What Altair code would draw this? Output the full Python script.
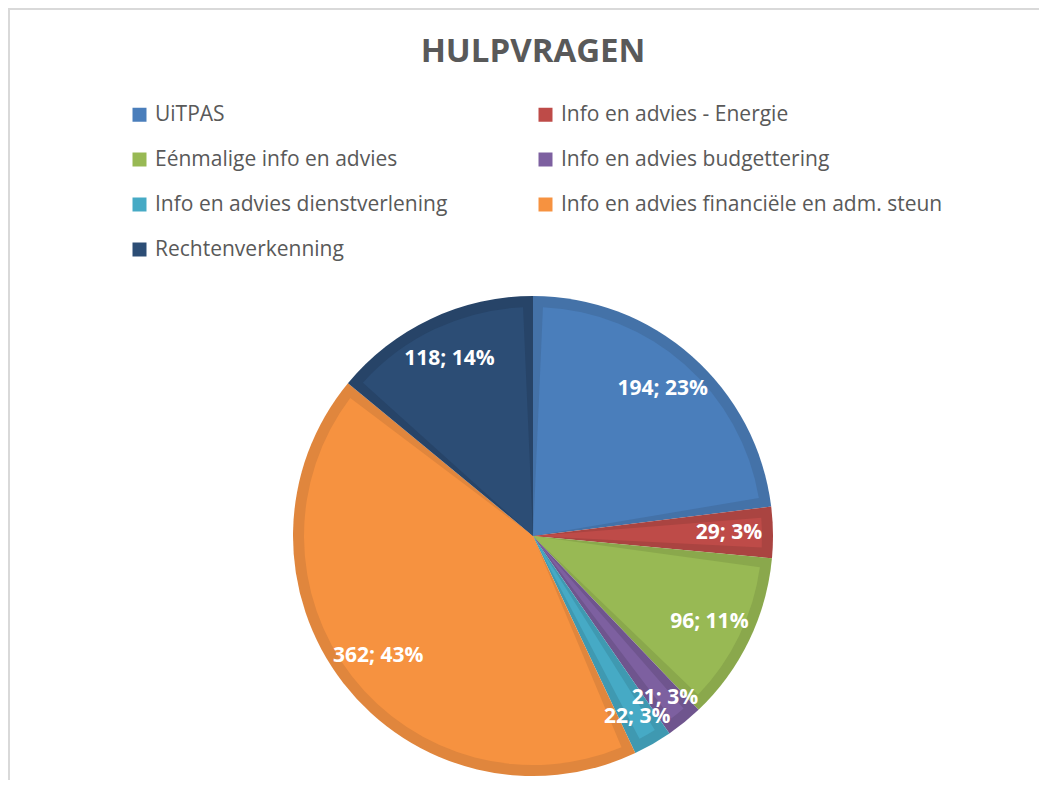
import altair as alt
import pandas as pd

title_text = "HULPVRAGEN"
categories = [
    "UiTPAS",
    "Info en advies - Energie",
    "Eénmalige info en advies",
    "Info en advies budgettering",
    "Info en advies dienstverlening",
    "Info en advies financiële en adm. steun",
    "Rechtenverkenning",
]
values = [194, 29, 96, 21, 22, 362, 118]
percents = [23, 3, 11, 3, 3, 43, 14]
fill_colors = ["#4A7EBB", "#BE4B48", "#98B954", "#7D60A0", "#46AAC5", "#F69240", "#2C4D75"]
edge_colors = ["#4472A8", "#AA4441", "#8AA84C", "#6F558E", "#3F99B1", "#E0863D", "#274468"]

df = pd.DataFrame({
    "cat": categories,
    "value": values,
    "order": list(range(len(categories))),
    "label": [f"{v}; {p}%" for v, p in zip(values, percents)],
    "edge": edge_colors,
})

W, H = 1031, 772
CX, CY = 525, 528
R = 240

base = alt.Chart(df).encode(
    theta=alt.Theta("value:Q", stack=True),
    order=alt.Order("order:Q", sort="ascending"),
    x=alt.value(CX),
    y=alt.value(CY),
)

edge = base.mark_arc(outerRadius=R).encode(
    color=alt.Color("edge:N", scale=None)
)

fill = base.mark_arc(outerRadius=R - 11, padAngle=0.087).encode(
    color=alt.Color(
        "cat:N",
        sort=categories,
        scale=alt.Scale(domain=categories, range=fill_colors),
        legend=alt.Legend(
            title=None,
            orient="none",
            legendX=121,
            legendY=96,
            columns=2,
            direction="horizontal",
            symbolType="square",
            symbolSize=196,
            symbolStrokeWidth=0,
            labelFont="Open Sans",
            labelFontSize=21,
            labelColor="#595959",
            labelOffset=5,
            rowPadding=23,
            columnPadding=87,
            labelLimit=700,
            padding=0,
        ),
    )
)

label_style = dict(font="Open Sans", fontSize=21, fontWeight="bold", color="white")

label_base = alt.Chart(df).transform_window(
    cum="sum(value)", sort=[alt.SortField("order", order="ascending")]
).transform_calculate(
    mid="datum.cum - datum.value / 2"
).encode(
    theta=alt.Theta("mid:Q", stack=None),
    x=alt.value(CX),
    y=alt.value(CY),
    text="label:N",
)

labels_big = label_base.mark_text(radius=196, **label_style).transform_filter(
    alt.datum.value >= 25
)
labels_small = label_base.mark_text(radius=209, **label_style).transform_filter(
    alt.datum.value < 25
)

one = pd.DataFrame({"t": [title_text]})
title = alt.Chart(one).mark_text(
    font="Open Sans", fontSize=33, fontWeight="bold", color="#595959", baseline="alphabetic"
).encode(text="t:N", x=alt.value(CX), y=alt.value(54))

top_rule = alt.Chart(one).mark_rule(color="#d9d9d9", strokeWidth=2).encode(
    x=alt.value(0), x2=alt.value(W), y=alt.value(1)
)
left_rule = alt.Chart(one).mark_rule(color="#d9d9d9", strokeWidth=2).encode(
    x=alt.value(1), y=alt.value(0), y2=alt.value(H)
)

chart = alt.layer(top_rule, left_rule, title, edge, fill, labels_big, labels_small).properties(
    width=W, height=H, padding=0, autosize=alt.AutoSizeParams(type="none")
).configure_view(stroke="transparent")

chart.save("out.html", embed_options={"renderer": "svg", "actions": False})
